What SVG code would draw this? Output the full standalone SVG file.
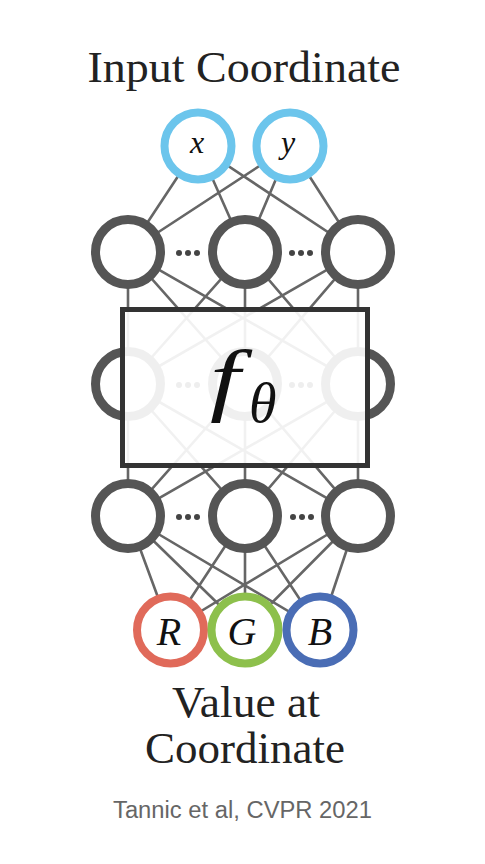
<svg xmlns="http://www.w3.org/2000/svg" width="485" height="864" viewBox="0 0 485 864">
<style>
.ln{stroke:#666;stroke-width:2.6;fill:none}
.hid{fill:#fff;stroke:#555;stroke-width:9}
.inp{fill:#fff;stroke:#6CC5EC;stroke-width:8}
.dot{fill:#444}
.title{font-family:"Liberation Serif",serif;fill:#222}
.math{font-family:"Liberation Serif",serif;font-style:italic;fill:#111}
</style>
<rect width="485" height="864" fill="#fff"/>
<text class="title" x="244" y="82" font-size="44" text-anchor="middle" textLength="313" lengthAdjust="spacingAndGlyphs">Input Coordinate</text>
<g id="connectors">
<path class="ln" d="M198 146L128 252M198 146L245 252M198 146L358 252M290 146L128 252M290 146L245 252M290 146L358 252"/>
<path class="ln" d="M128 252L128 384M128 252L245 384M128 252L358 384M245 252L128 384M245 252L245 384M245 252L358 384M358 252L128 384M358 252L245 384M358 252L358 384"/>
<path class="ln" d="M128 384L128 516M128 384L245 516M128 384L358 516M245 384L128 516M245 384L245 516M245 384L358 516M358 384L128 516M358 384L245 516M358 384L358 516"/>
<path class="ln" d="M128 516L170 630M128 516L245 630M128 516L320 630M245 516L170 630M245 516L245 630M245 516L320 630M358 516L170 630M358 516L245 630M358 516L320 630"/>
</g>
<g id="in-x"><circle class="inp" cx="198" cy="146" r="33.5"/><text class="math" x="197" y="153" font-size="32" text-anchor="middle">x</text></g>
<g id="in-y"><circle class="inp" cx="290" cy="146" r="33.5"/><text class="math" x="288" y="153" font-size="32" text-anchor="middle">y</text></g>
<g id="h1-1"><circle class="hid" cx="128" cy="252" r="32.5"/></g>
<g id="h1-2"><circle class="hid" cx="245" cy="252" r="32.5"/></g>
<g id="h1-3"><circle class="hid" cx="358" cy="252" r="32.5"/></g>
<g id="h1-dots"><circle class="dot" cx="179" cy="253" r="3"/><circle class="dot" cx="188" cy="253" r="3"/><circle class="dot" cx="197" cy="253" r="3"/><circle class="dot" cx="292" cy="253" r="3"/><circle class="dot" cx="301" cy="253" r="3"/><circle class="dot" cx="310" cy="253" r="3"/></g>
<g id="h2-1"><circle class="hid" cx="128" cy="384" r="32.5"/></g>
<g id="h2-2"><circle class="hid" cx="245" cy="384" r="32.5"/></g>
<g id="h2-3"><circle class="hid" cx="358" cy="384" r="32.5"/></g>
<g id="h2-dots"><circle class="dot" cx="179" cy="385" r="3"/><circle class="dot" cx="188" cy="385" r="3"/><circle class="dot" cx="197" cy="385" r="3"/><circle class="dot" cx="292" cy="385" r="3"/><circle class="dot" cx="301" cy="385" r="3"/><circle class="dot" cx="310" cy="385" r="3"/></g>
<g id="h3-1"><circle class="hid" cx="128" cy="516" r="32.5"/></g>
<g id="h3-2"><circle class="hid" cx="245" cy="516" r="32.5"/></g>
<g id="h3-3"><circle class="hid" cx="358" cy="516" r="32.5"/></g>
<g id="h3-dots"><circle class="dot" cx="179" cy="517" r="3"/><circle class="dot" cx="188" cy="517" r="3"/><circle class="dot" cx="197" cy="517" r="3"/><circle class="dot" cx="293" cy="517" r="3"/><circle class="dot" cx="302" cy="517" r="3"/><circle class="dot" cx="311" cy="517" r="3"/></g>
<g id="f-theta">
<rect x="122.5" y="309.5" width="245" height="156" fill="#fff" fill-opacity="0.91" stroke="#333" stroke-width="5"/>
<text class="math" font-size="80" transform="translate(210 406) scale(1.35 1)">f</text>
<text class="math" x="249" y="422" font-size="56">θ</text>
</g>
<g id="out-r"><circle fill="#fff" stroke="#E06A5A" stroke-width="8" cx="170.5" cy="630" r="33.5"/><text class="math" x="169" y="645" font-size="40" text-anchor="middle">R</text></g>
<g id="out-g"><circle fill="#fff" stroke="#8DC04C" stroke-width="8" cx="245" cy="630" r="33.5"/><text class="math" x="242" y="645" font-size="40" text-anchor="middle">G</text></g>
<g id="out-b"><circle fill="#fff" stroke="#4A6DB5" stroke-width="8" cx="320" cy="630" r="33.5"/><text class="math" x="320" y="645" font-size="40" text-anchor="middle">B</text></g>
<text class="title" x="246" y="717" font-size="44" text-anchor="middle" textLength="148" lengthAdjust="spacingAndGlyphs">Value at</text>
<text class="title" x="245" y="763" font-size="44" text-anchor="middle" textLength="200" lengthAdjust="spacingAndGlyphs">Coordinate</text>
<text x="242.5" y="818" font-family="Liberation Sans,Arial,sans-serif" font-size="23" fill="#666" text-anchor="middle" textLength="259" lengthAdjust="spacingAndGlyphs">Tannic et al, CVPR 2021</text>
</svg>
